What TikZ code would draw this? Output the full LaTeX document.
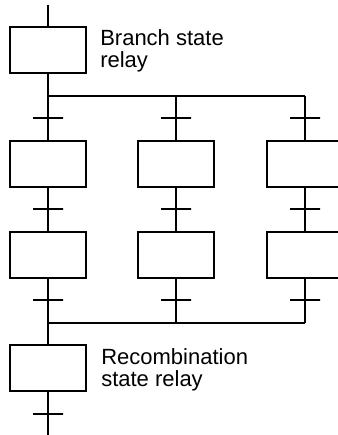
\documentclass[tikz,border=0pt]{standalone}
\usepackage{fontspec}
\setmainfont{Liberation Sans}
\usetikzlibrary{positioning}
\tikzset{
  sfc/stepbox/.style={draw, line width=1.5pt, minimum width=57pt, minimum height=34.5pt, inner sep=0pt, outer sep=0pt},
  sfc/trans/.style={draw, line width=1.5pt, minimum width=22.5pt, minimum height=0pt, inner sep=0pt, outer sep=0pt},
  sfc/line/.style={line width=1.5pt},
  sfc/label/.style={font=\fontsize{16.5}{16.5}\selectfont, align=left, inner sep=0pt, anchor=north west}
}
\begin{document}
\begin{tikzpicture}[x=0.75pt,y=-0.75pt]
\useasboundingbox (0,0) rectangle (337,435);
\coordinate (in) at (48,5);
\node[sfc/stepbox] (branch) at (48,50) {};
\node[sfc/label] (branchtxt) at (100,29) {Branch state\\relay};
\coordinate (fork1) at (48,96); \coordinate (fork2) at (176,96); \coordinate (fork3) at (305,96);
\node[sfc/trans] (ta1) at (48,118) {};
\node[sfc/trans] (ta2) at (176,118) {};
\node[sfc/trans] (ta3) at (305,118) {};
\node[sfc/stepbox] (sa1) at (48,164) {};
\node[sfc/stepbox] (sa2) at (176,164) {};
\node[sfc/stepbox] (sa3) at (305,164) {};
\node[sfc/trans] (tb1) at (48,209) {};
\node[sfc/trans] (tb2) at (176,209) {};
\node[sfc/trans] (tb3) at (305,209) {};
\node[sfc/stepbox] (sb1) at (48,254.5) {};
\node[sfc/stepbox] (sb2) at (176,254.5) {};
\node[sfc/stepbox] (sb3) at (305,254.5) {};
\node[sfc/trans] (tc1) at (48,300) {};
\node[sfc/trans] (tc2) at (176,300) {};
\node[sfc/trans] (tc3) at (305,300) {};
\coordinate (join1) at (48,323); \coordinate (join2) at (176,323); \coordinate (join3) at (305,323);
\node[sfc/stepbox] (recomb) at (48,368) {};
\node[sfc/label] (recombtxt) at (101,348) {Recombination\\state relay};
\node[sfc/trans] (td) at (48,414) {};
\coordinate (out) at (48,436);
\draw[sfc/line] (in) -- (branch); \draw[sfc/line] (branch) -- (fork1);
\draw[sfc/line] (fork1) -- (fork3);
\draw[sfc/line] (fork1) -- (ta1) -- (sa1); \draw[sfc/line] (fork2) -- (ta2) -- (sa2); \draw[sfc/line] (fork3) -- (ta3) -- (sa3);
\draw[sfc/line] (sa1) -- (tb1) -- (sb1); \draw[sfc/line] (sa2) -- (tb2) -- (sb2); \draw[sfc/line] (sa3) -- (tb3) -- (sb3);
\draw[sfc/line] (sb1) -- (tc1) -- (join1); \draw[sfc/line] (sb2) -- (tc2) -- (join2); \draw[sfc/line] (sb3) -- (tc3) -- (join3);
\draw[sfc/line] (join1) -- (join3);
\draw[sfc/line] (join1) -- (recomb); \draw[sfc/line] (recomb) -- (td) -- (out);
\end{tikzpicture}
\end{document}
